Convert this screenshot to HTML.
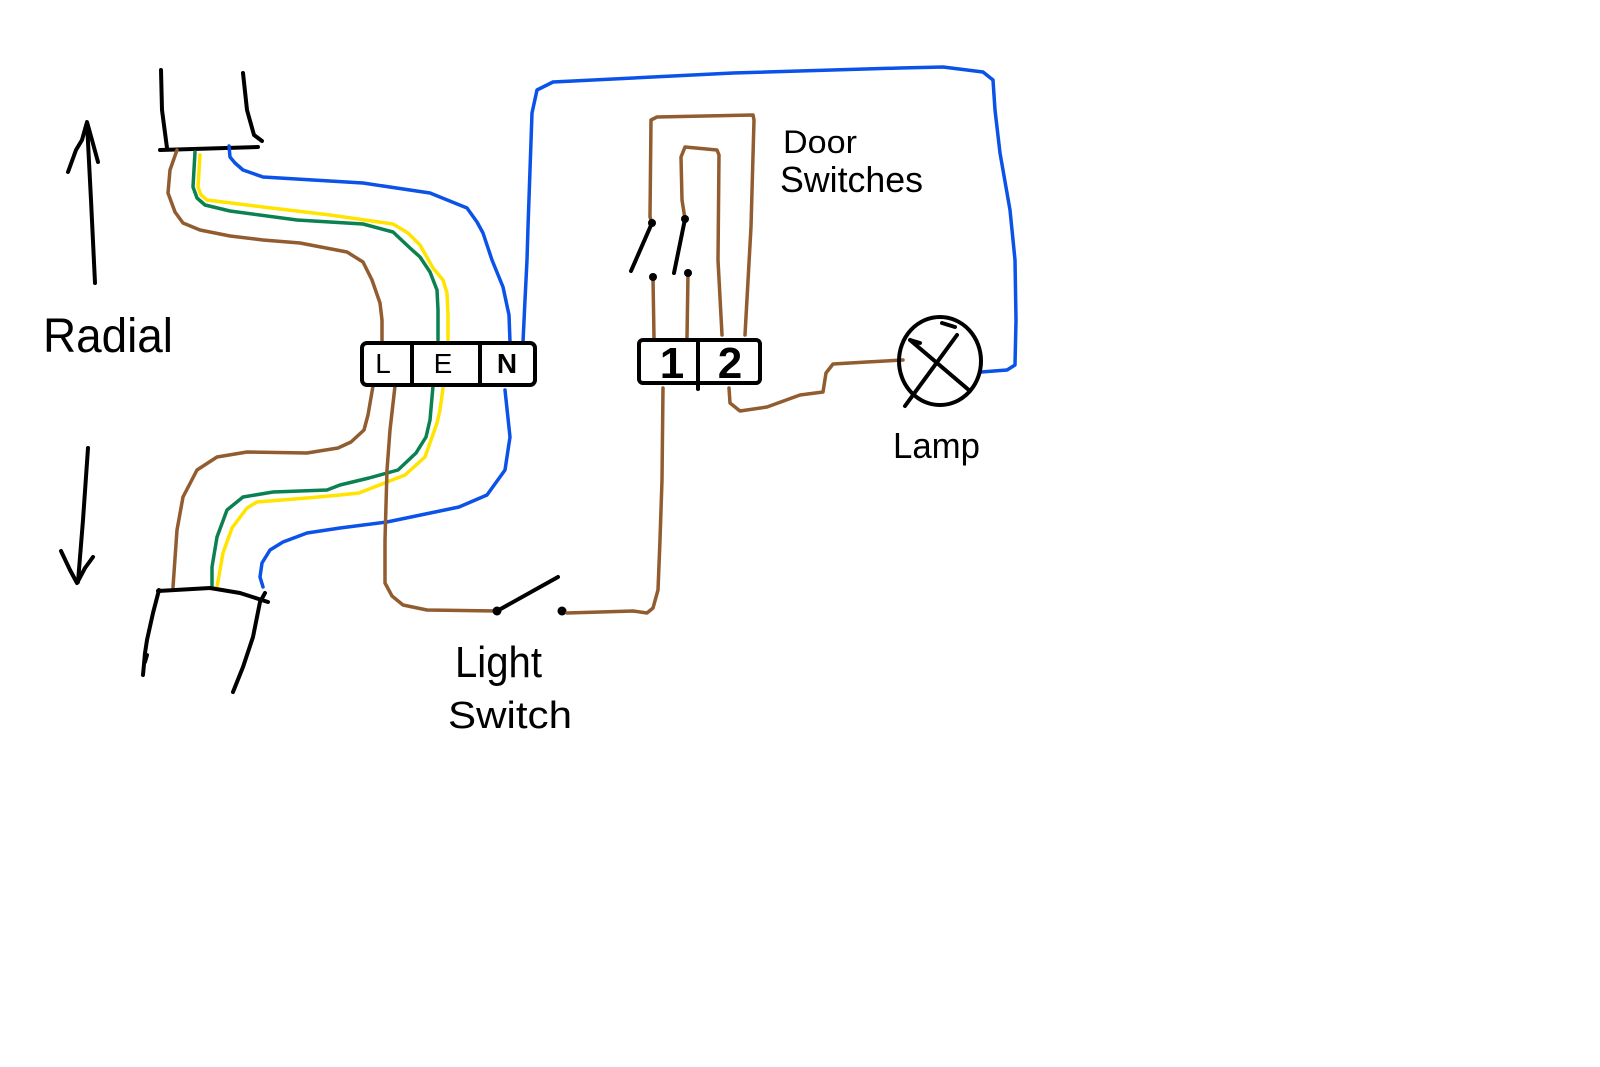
<!DOCTYPE html>
<html>
<head>
<meta charset="utf-8">
<style>
  html,body{margin:0;padding:0;background:#fff;}
  svg{display:block;}
  .k{fill:none;stroke:#000;stroke-width:4;stroke-linecap:round;stroke-linejoin:round;}
  .br{fill:none;stroke:#915c2f;stroke-width:3.5;stroke-linecap:round;stroke-linejoin:round;}
  .gr{fill:none;stroke:#0b8050;stroke-width:3.5;stroke-linecap:round;stroke-linejoin:round;}
  .ye{fill:none;stroke:#ffe400;stroke-width:3.5;stroke-linecap:round;stroke-linejoin:round;}
  .bl{fill:none;stroke:#0a52e8;stroke-width:3.5;stroke-linecap:round;stroke-linejoin:round;}
  text{font-family:"Liberation Sans","DejaVu Sans",sans-serif;fill:#000;}
</style>
</head>
<body>
<svg width="1600" height="1067" viewBox="0 0 1600 1067" xmlns="http://www.w3.org/2000/svg">
  <rect width="1600" height="1067" fill="#fff"/>

  <!-- top cable -->
  <path class="k" d="M161,70 L162,110 L167,148"/>
  <path class="k" d="M243,73 L247,110 L254,135 L262,141"/>
  <path class="k" d="M160,150 L258,147"/>

  <!-- up arrow -->
  <path class="k" d="M95,283 L91,200 L87,123"/>
  <path class="k" d="M68,172 L76,150 L82,140 L87,122 L92,140 L98,162"/>

  <text x="43" y="352" font-size="48" textLength="130" lengthAdjust="spacingAndGlyphs">Radial</text>

  <!-- top wires -->
  <polyline class="br" points="177,150 170,170 168,193 175,212 183,223 200,230 230,236 263,240 300,243 347,252 363,262 372,280 380,303 382,320 382,342"/>
  <polyline class="gr" points="195,152 193,187 197,198 205,205 230,211 297,220 363,224 393,232 410,248 420,257 430,272 437,290 438,310 438,340"/>
  <polyline class="ye" points="200,155 198,187 201,195 207,200 263,207 330,215 393,224 408,233 420,245 433,268 443,280 447,293 448,315 448,340"/>
  <polyline class="bl" points="229,146 230,157 235,163 243,170 263,177 363,183 430,193 467,208 477,222 483,233 492,260 503,287 509,315 510,342"/>

  <!-- long blue neutral -->
  <polyline class="bl" points="523,342 525,300 527,260 528,227 530,170 532,113 537,90 553,82 733,73 900,68 943,67 983,72 993,80 995,110 1000,153 1010,210 1015,260 1016,320 1015,365 1007,370 981,372"/>

  <!-- bottom wires -->
  <polyline class="br" points="373,386 368,415 364,430 351,442 338,448 307,453 247,452 217,457 197,470 183,497 177,530 173,587"/>
  <polyline class="gr" points="433,386 430,420 426,437 416,453 398,470 369,478 340,485 327,490 273,492 243,497 227,510 217,537 212,567 212,587"/>
  <polyline class="ye" points="443,388 440,410 437,423 425,457 405,475 359,493 340,495 307,498 257,502 247,508 232,528 223,553 217,587"/>
  <polyline class="bl" points="505,390 510,437 505,470 487,495 459,507 387,522 340,528 307,533 283,542 270,550 262,563 260,577 263,587"/>

  <!-- light switch circuit -->
  <polyline class="br" points="395,386 390,430 387,470 385,540 385,583 392,596 403,605 427,610 497,611"/>
  <path class="k" d="M497,611 L558,577"/>
  <circle cx="497" cy="611" r="4.5" fill="#000"/>
  <circle cx="562" cy="611" r="4.5" fill="#000"/>
  <polyline class="br" points="567,613 633,611 647,613 653,608 658,590 660,540 662,480 663,388"/>

  <!-- LEN box -->
  <rect class="k" x="362" y="343" width="173" height="42" rx="5"/>
  <path class="k" d="M412,344 L412,384 M480,344 L480,384"/>
  <text x="383" y="373" font-size="28" text-anchor="middle">L</text>
  <text x="443" y="373" font-size="28" text-anchor="middle">E</text>
  <text x="507" y="373" font-size="28" text-anchor="middle" font-weight="bold">N</text>

  <!-- bottom cable -->
  <path class="k" d="M158,591 L210,588 L240,593 L268,602"/>
  <path class="k" d="M159,590 L153,613 L147,640 L145,653 L143,675 M147,655 L145,662"/>
  <path class="k" d="M265,593 L260,602 L253,637 L243,667 L233,692"/>

  <!-- down arrow -->
  <path class="k" d="M88,448 L83,520 L78,582"/>
  <path class="k" d="M61,551 L70,570 L77,583 L85,568 L93,557"/>

  <text x="455" y="677" font-size="44" textLength="87" lengthAdjust="spacingAndGlyphs">Light</text>
  <text x="448" y="728" font-size="38" textLength="124" lengthAdjust="spacingAndGlyphs">Switch</text>

  <!-- door switches -->
  <polyline class="br" points="654,338 653,278"/>
  <polyline class="br" points="652,223 650,217 651,120 657,117 753,115 754,120 751,227 745,335"/>
  <polyline class="br" points="687,338 688,273"/>
  <polyline class="br" points="685,219 682,200 681,157 685,147 717,150 719,155 718,260 722,335"/>
  <path class="k" d="M631,271 L652,223"/>
  <path class="k" d="M674,273 L685,219"/>
  <circle cx="652" cy="223" r="4" fill="#000"/>
  <circle cx="653" cy="277" r="4" fill="#000"/>
  <circle cx="685" cy="219" r="4" fill="#000"/>
  <circle cx="688" cy="273" r="4" fill="#000"/>

  <!-- 1 2 box -->
  <rect class="k" x="639" y="340" width="121" height="43" rx="4"/>
  <path class="k" d="M698,341 L698,389"/>
  <text x="672" y="378" font-size="44" text-anchor="middle" font-weight="bold">1</text>
  <text x="730" y="378" font-size="44" text-anchor="middle" font-weight="bold">2</text>

  <text x="783" y="153" font-size="32" textLength="74" lengthAdjust="spacingAndGlyphs">Door</text>
  <text x="780" y="192" font-size="36" textLength="143" lengthAdjust="spacingAndGlyphs">Switches</text>

  <!-- wire to lamp -->
  <polyline class="br" points="729,388 730,403 740,411 767,407 800,395 823,392 826,373 833,364 867,362 903,360"/>

  <!-- lamp -->
  <ellipse class="k" cx="940" cy="361" rx="41" ry="44"/>
  <path class="k" d="M910,340 L970,391 M957,335 L905,406 M942,323 L955,327 M910,340 L920,343"/>

  <text x="893" y="458" font-size="36" textLength="87" lengthAdjust="spacingAndGlyphs">Lamp</text>
</svg>
</body>
</html>
